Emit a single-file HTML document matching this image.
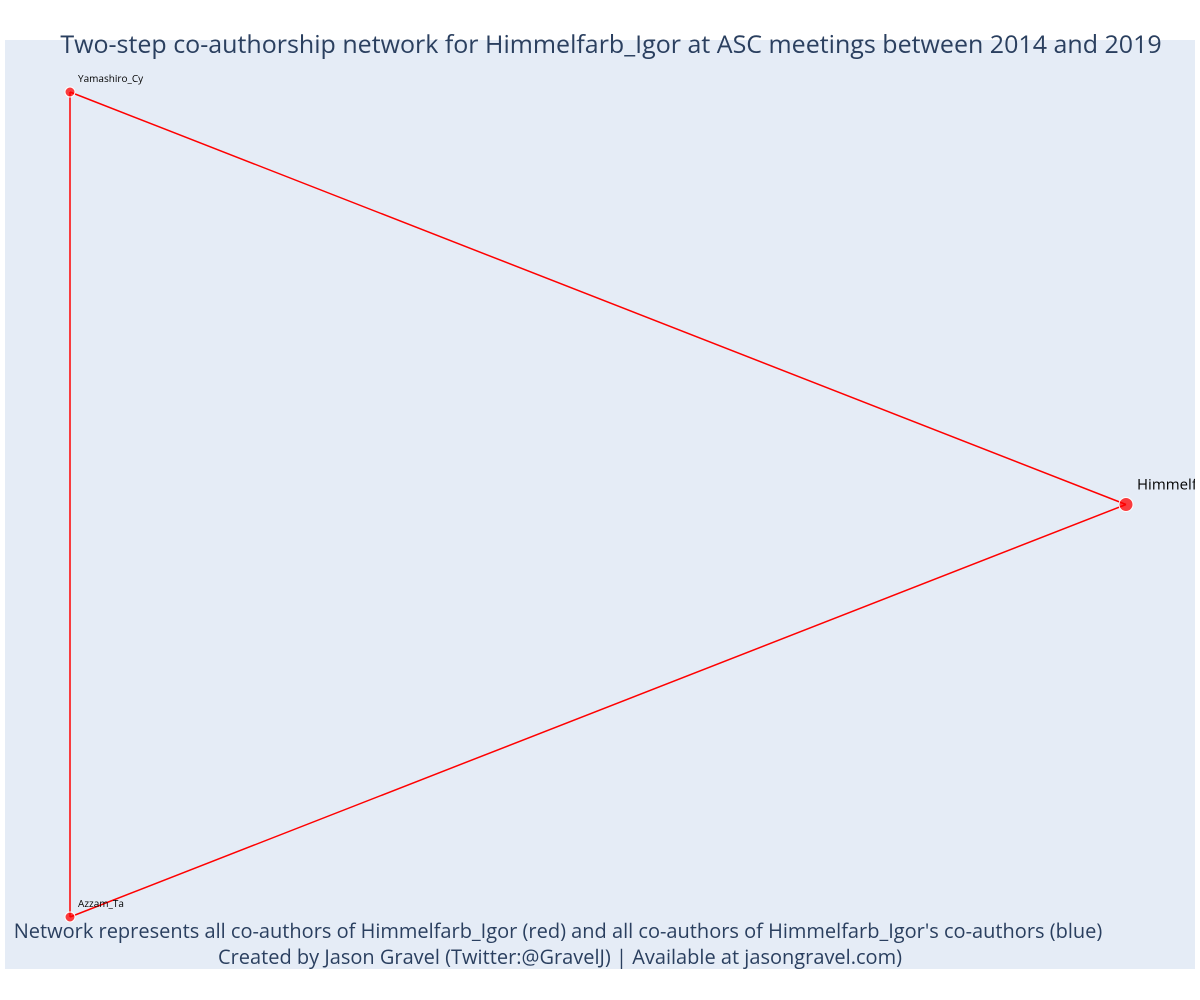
<!DOCTYPE html>
<html><head><meta charset="utf-8"><style>
html,body{margin:0;padding:0;background:#fff;}
svg{display:block;font-family:"Open Sans","Liberation Sans",sans-serif;}
</style></head><body>
<svg id="chart" width="1200" height="1000">
<defs><clipPath id="clip"><rect x="5" y="40" width="1190" height="929"/></clipPath></defs>
<rect x="5" y="40" width="1190" height="929" fill="#e5ecf6"/>
<g id="edges" clip-path="url(#clip)"></g>
<g id="nodes" clip-path="url(#clip)"></g>
<text x="611" y="53" text-anchor="middle" font-size="25" fill="#2a3f5f">Two-step co-authorship network for Himmelfarb_Igor at ASC meetings between 2014 and 2019</text>
<text x="558" y="938" text-anchor="middle" font-size="20" fill="#2a3f5f">Network represents all co-authors of Himmelfarb_Igor (red) and all co-authors of Himmelfarb_Igor's co-authors (blue)</text>
<text x="560" y="964" text-anchor="middle" font-size="20" fill="#2a3f5f">Created by Jason Gravel (Twitter:@GravelJ) | Available at jasongravel.com)</text>
</svg>
<script>
const nodeNames = ["Yamashiro_Cy", "Azzam_Ta", "Himmelfarb_Igor"];
const nodeX = [0, 0, 1];
const nodeY = [1, 0, 0.5];
const nodeSize = [1, 1, 2];
const edgeFrom = [0, 0, 1];
const edgeTo = [1, 2, 2];

const xScale = v => 70 + v * (1126 - 70);
const yScale = v => 917 - v * (917 - 92);
const NS = "http://www.w3.org/2000/svg";
const eg = document.getElementById("edges");
const ng = document.getElementById("nodes");

for (let i = 0; i < edgeFrom.length; i++) {
  const a = edgeFrom[i], b = edgeTo[i];
  const l = document.createElementNS(NS, "line");
  l.setAttribute("x1", xScale(nodeX[a])); l.setAttribute("y1", yScale(nodeY[a]));
  l.setAttribute("x2", xScale(nodeX[b])); l.setAttribute("y2", yScale(nodeY[b]));
  l.setAttribute("stroke", "#ff0000"); l.setAttribute("stroke-width", "1.5");
  
  
  eg.appendChild(l);
}
for (let i = 0; i < nodeNames.length; i++) {
  const cx = xScale(nodeX[i]), cy = yScale(nodeY[i]);
  const c = document.createElementNS(NS, "circle");
  c.setAttribute("cx", cx); c.setAttribute("cy", cy);
  c.setAttribute("r", nodeSize[i] > 1 ? 7 : 5);
  c.setAttribute("fill", "#ff0000"); c.setAttribute("fill-opacity", "0.75");
  c.setAttribute("stroke", "#ffffff"); c.setAttribute("stroke-width", "1");
  
  
  ng.appendChild(c);
  const t = document.createElementNS(NS, "text");
  const big = nodeSize[i] > 1;
  t.setAttribute("x", cx + (big ? 11 : 8));
  t.setAttribute("y", cy - (big ? 15 : 10));
  t.setAttribute("font-size", big ? 15 : 10);
  t.setAttribute("fill", "#000");
  t.textContent = nodeNames[i];
  
  
  ng.appendChild(t);
}
</script>
</body></html>
